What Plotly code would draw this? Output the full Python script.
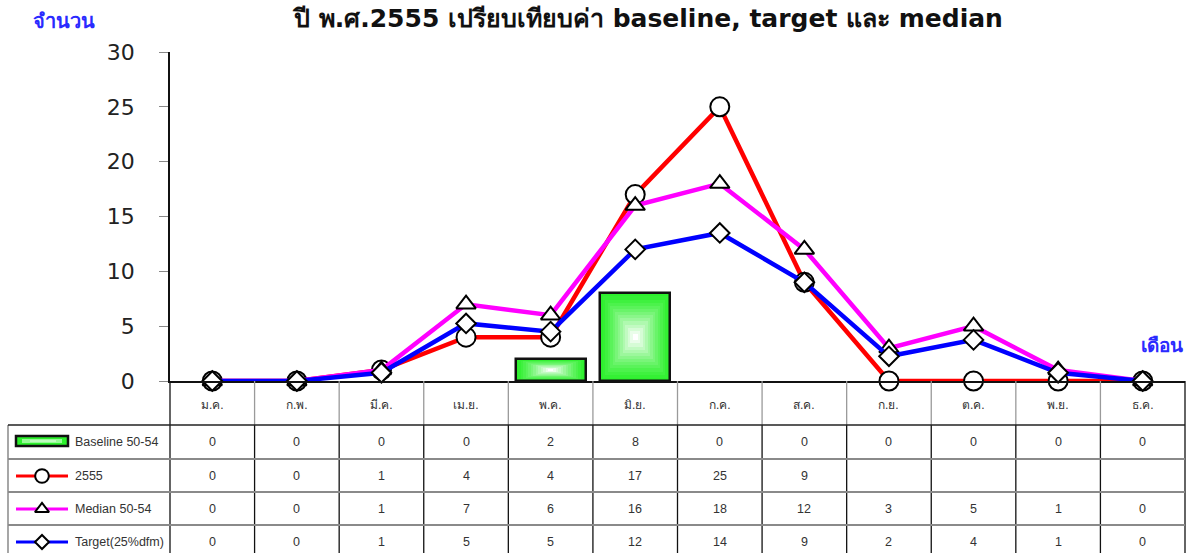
import plotly.graph_objects as go

# ---------------- data ----------------
months = ["ม.ค.", "ก.พ.", "มี.ค.", "เม.ย.", "พ.ค.", "มิ.ย.", "ก.ค.", "ส.ค.", "ก.ย.", "ต.ค.", "พ.ย.", "ธ.ค."]
baseline = [0, 0, 0, 0, 2, 8, 0, 0, 0, 0, 0, 0]
y2555 = [0, 0, 1, 4, 4, 17, 25, 9, 0, 0, 0, 0]
y2555_table = ["0", "0", "1", "4", "4", "17", "25", "9", "", "", "", ""]
median = [0, 0, 1, 7, 6, 16, 18, 12, 3, 5, 1, 0]
target = [0, 0, 0.75, 5.25, 4.5, 12, 13.5, 9, 2.25, 3.75, 0.75, 0]
target_table = ["0", "0", "1", "5", "5", "12", "14", "9", "2", "4", "1", "0"]
yticks = [0, 5, 10, 15, 20, 25, 30]
series_names = ["Baseline 50-54", "2555", "Median 50-54", "Target(25%dfm)"]
title_text = "ปี พ.ศ.2555 เปรียบเทียบค่า baseline, target และ median"
ylabel = "จำนวน"
xlabel = "เดือน"

# ---------------- geometry (pixels) ----------------
W, H = 1200, 553
PL, PR, PT, PB = 170, 1185, 52, 381
FONT = "Tahoma, 'DejaVu Sans', 'Noto Sans', sans-serif"
TFONT = "Tahoma, 'Liberation Sans', Arial, sans-serif"
TXT = "#333333"

xs = list(range(len(months)))
fig = go.Figure()

# gradient bars (concentric layers, edges green -> center white)
n_layers = 14
edge = (45, 240, 45)
bw = 0.83
for k in range(n_layers):
    f = k / n_layers
    t = (k / (n_layers - 1)) ** 1.3
    c = tuple(int(edge[i] + (255 - edge[i]) * t) for i in range(3))
    fig.add_bar(
        x=xs,
        y=[v * (1 - f) if v else None for v in baseline],
        base=[v * f / 2 if v else None for v in baseline],
        width=bw * (1 - f),
        marker=dict(color="rgb(%d,%d,%d)" % c, line=dict(width=0)),
        showlegend=False, hoverinfo="skip",
    )
fig.add_bar(
    x=xs, y=[v if v else None for v in baseline], width=bw,
    marker=dict(color="rgba(0,0,0,0)", line=dict(width=2.5, color="#111111")),
    showlegend=False, name=series_names[0],
)

line_specs = [
    (y2555, "#ff0000", "circle", 19, series_names[1]),
    (median, "#ff00ff", "triangle-up", 17, series_names[2]),
    (target, "#0000ff", "diamond", 15, series_names[3]),
]
for ys, col, sym, size, nm in line_specs:
    fig.add_scatter(
        x=xs, y=ys, mode="lines+markers", name=nm,
        line=dict(color=col, width=4.5),
        marker=dict(symbol=sym, size=size, color="white",
                    line=dict(color="black", width=2)),
        cliponaxis=False, showlegend=False,
    )

# ---------------- table (pixel overlay axes) ----------------
shapes = []
ann = []
colw = (PR - PL) / len(months)
row_tops = [425, 459, 492, 525, 560]
LEGL = 8

def hline(y, x0, x1, color, width):
    shapes.append(dict(type="line", xref="x2", yref="y2", x0=x0, x1=x1, y0=y, y1=y,
                       line=dict(color=color, width=width), layer="above"))

def vline(x, y0, y1, color, width):
    shapes.append(dict(type="line", xref="x2", yref="y2", x0=x, x1=x, y0=y0, y1=y1,
                       line=dict(color=color, width=width), layer="above"))

for k in range(len(months) + 1):
    xk = PL + k * colw
    border = k in (0, len(months))
    vline(xk, PB, row_tops[0], "#111111" if border else "#9a9a9a", 1.3)
    vline(xk, row_tops[0], 560, "#111111", 1.3)
vline(LEGL, row_tops[0], 560, "#777777", 1.3)

hline(row_tops[0], LEGL, PR, "#222222", 1.3)
for y in row_tops[1:4]:
    hline(y, LEGL, PR, "#8a8a8a", 2)

for i, m in enumerate(months):
    ann.append(dict(xref="x2", yref="y2", x=PL + (i + 0.5) * colw, y=405, text=m,
                    showarrow=False, font=dict(size=12, color=TXT, family=TFONT)))

table_rows = [
    [str(v) for v in baseline],
    y2555_table,
    [str(v) for v in median],
    target_table,
]
row_centers = [442, 476, 509, 542]
for r, row in enumerate(table_rows):
    yc = row_centers[r]
    for i, s in enumerate(row):
        if s == "":
            continue
        ann.append(dict(xref="x2", yref="y2", x=PL + (i + 0.5) * colw, y=yc, text=s,
                        showarrow=False, font=dict(size=12.5, color=TXT, family=TFONT)))
    ann.append(dict(xref="x2", yref="y2", x=73, y=yc, text=series_names[r], xanchor="left",
                    showarrow=False, font=dict(size=12.5, color=TXT, family=TFONT)))

# baseline swatch
shapes.append(dict(type="rect", xref="x2", yref="y2", x0=16, x1=68, y0=436, y1=446,
                   fillcolor="rgb(45,240,45)", line=dict(color="#111111", width=2.5), layer="above"))
shapes.append(dict(type="rect", xref="x2", yref="y2", x0=22, x1=62, y0=439, y1=443,
                   fillcolor="rgb(150,250,150)", line=dict(width=0), layer="above"))
shapes.append(dict(type="rect", xref="x2", yref="y2", x0=30, x1=56, y0=440.5, y1=441.5,
                   fillcolor="rgb(235,255,235)", line=dict(width=0), layer="above"))
for (ys, col, sym, size, nm), yy in zip(line_specs, row_centers[1:]):
    fig.add_scatter(x=[16, 68], y=[yy, yy], xaxis="x2", yaxis="y2", mode="lines",
                    line=dict(color=col, width=3), showlegend=False, hoverinfo="skip")
    fig.add_scatter(x=[42], y=[yy], xaxis="x2", yaxis="y2", mode="markers",
                    marker=dict(symbol=sym, size=size * 0.72, color="white",
                                line=dict(color="black", width=2)),
                    showlegend=False, hoverinfo="skip", cliponaxis=False)

# titles
ann.append(dict(xref="x2", yref="y2", x=647, y=18, text="<b>%s</b>" % title_text, showarrow=False,
                font=dict(size=25, color="#111111", family=FONT)))
ann.append(dict(xref="x2", yref="y2", x=64, y=21, text="<b>%s</b>" % ylabel, showarrow=False,
                font=dict(size=20, color="#2a2aff", family=FONT)))
ann.append(dict(xref="x2", yref="y2", x=1162, y=345, text="<b>%s</b>" % xlabel, showarrow=False,
                font=dict(size=19, color="#2a2aff", family=FONT)))

fig.update_layout(
    template="none",
    width=W, height=H,
    margin=dict(l=0, r=0, t=0, b=0, pad=0, autoexpand=False),
    paper_bgcolor="white", plot_bgcolor="rgba(0,0,0,0)",
    barmode="overlay", bargap=0,
    shapes=shapes, annotations=ann,
    xaxis=dict(domain=[PL / W, PR / W], range=[-0.5, len(months) - 0.5],
               showgrid=False, zeroline=False, showticklabels=False, automargin=False,
               showline=True, linecolor="#111111", linewidth=1.5, ticks=""),
    yaxis=dict(domain=[(H - PB) / H, (H - PT) / H], range=[0, 30],
               tickvals=yticks, showgrid=False, zeroline=False, automargin=False,
               showline=True, linecolor="#111111", linewidth=1.5,
               ticks="outside", ticklen=9, tickcolor="#888888", tickwidth=1.3,
               ticklabelstandoff=20,
               tickfont=dict(size=22, color="#222222", family=FONT)),
    xaxis2=dict(domain=[0, 1], range=[0, W], visible=False, anchor="y2", automargin=False),
    yaxis2=dict(domain=[0, 1], range=[H, 0], visible=False, anchor="x2", automargin=False),
    showlegend=False,
)

fig.write_html(
    "out.html",
    config={"displayModeBar": False},
    post_script=(
        "document.body.style.margin='0';document.body.style.padding='0';"
        "document.documentElement.style.overflow='hidden';"
        "var gd=document.getElementById('{plot_id}');"
        "gd.style.position='fixed';gd.style.top='0px';gd.style.left='0px';"
    ),
)
